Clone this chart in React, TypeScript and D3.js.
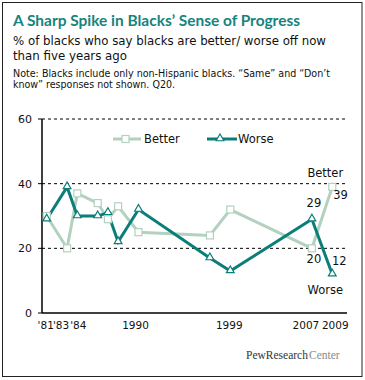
import React from "react";
import * as d3 from "d3";

const years = [1981, 1983, 1984, 1986, 1987, 1988, 1990, 1997, 1999, 2007, 2009];
const better = [30, 20, 37, 34, 29, 33, 25, 24, 32, 20, 39];
const worse = [29, 39, 30, 30, 31, 22, 32, 17, 13, 29, 12];
const tickYears = [1981, 1983, 1984, 1990, 1999, 2007, 2009];
const tickLabels = ["'81", "'83", "'84", "1990", "1999", "2007", "2009"];
const yTicks = [0, 20, 40, 60];

const W = 365;
const H = 380;
const BETTER_C = "#b3d1bf";
const WORSE_C = "#0b7e79";
const TITLE_C = "#16847e";
const FONT = "'DejaVu Sans', Verdana, sans-serif";

export default function App() {
  const x = d3.scaleLinear().domain([1981, 2009]).range([46.7, 332.3]);
  const y = d3.scaleLinear().domain([0, 60]).range([313, 119]);
  const axisX0 = 42;
  const axisX1 = 347;

  const line = d3
    .line<number>()
    .x((_, i) => x(years[i]))
    .y((d) => y(d));

  const tri = d3.symbol().type(d3.symbolTriangle).size(26)();
  const nudge: Record<number, number> = { 1981: -1, 1983: -6, 1984: 1, 1990: -3, 1999: -1, 2007: -6, 2009: 3 };

  const last = years.length - 1;
  const prev = years.length - 2;

  return (
    <svg
      width={W}
      height={H}
      style={{ position: "absolute", left: 0, top: 0, background: "#fff" }}
      fontFamily={FONT}
    >
      <rect x={2.5} y={2.5} width={359.5} height={374} fill="#fff" stroke="#222" strokeWidth={1} />

      <text x={13} y={26} fill={TITLE_C} fontFamily="Lato, sans-serif" fontWeight="bold" fontSize={15.5} textLength={287} lengthAdjust="spacingAndGlyphs">
        A Sharp Spike in Blacks’ Sense of Progress
      </text>
      <text x={13} y={45} fill="#111" fontSize={12} textLength={313} lengthAdjust="spacingAndGlyphs">
        % of blacks who say blacks are better/ worse off now
      </text>
      <text x={13} y={59.5} fill="#111" fontSize={12} textLength={114} lengthAdjust="spacingAndGlyphs">
        than five years ago
      </text>
      <text x={13} y={77} fill="#111" fontSize={10} textLength={317} lengthAdjust="spacingAndGlyphs">
        Note: Blacks include only non-Hispanic blacks. “Same” and “Don’t
      </text>
      <text x={13} y={88} fill="#111" fontSize={10} textLength={162} lengthAdjust="spacingAndGlyphs">
        know” responses not shown. Q20.
      </text>

      {/* gridlines */}
      {yTicks
        .filter((t) => t > 0)
        .map((t) => (
          <line key={"g" + t} x1={axisX0} x2={346} y1={y(t)} y2={y(t)} stroke="#000" strokeWidth={1} strokeDasharray="3,3" />
        ))}
      {/* y ticks & labels */}
      {yTicks.map((t) => (
        <g key={"y" + t}>
          <line x1={axisX0 - 4} x2={axisX0} y1={y(t)} y2={y(t)} stroke="#000" strokeWidth={1} />
          <text x={32} y={y(t) + 4} textAnchor="end" fontSize={11} fill="#111">
            {t}
          </text>
        </g>
      ))}
      <line x1={axisX0} x2={axisX0} y1={y(60)} y2={y(0)} stroke="#000" strokeWidth={1.5} />
      <line x1={axisX0} x2={axisX1} y1={y(0)} y2={y(0)} stroke="#000" strokeWidth={1.5} />

      {tickYears.map((yr, i) => (
        <text key={"x" + yr} x={x(yr) + (nudge[yr] || 0)} y={329} textAnchor="middle" fontSize={10.5} fill="#111">
          {tickLabels[i]}
        </text>
      ))}

      {/* lines */}
      <path d={line(better) || ""} fill="none" stroke={BETTER_C} strokeWidth={3} strokeLinejoin="miter" />
      <path d={line(worse) || ""} fill="none" stroke={WORSE_C} strokeWidth={3} strokeLinejoin="miter" />

      {better.map((v, i) => (
        <rect key={"b" + i} x={x(years[i]) - 3.5} y={y(v) - 3.5} width={7} height={7} fill="#fff" stroke={BETTER_C} strokeWidth={1.2} />
      ))}
      {worse.map((v, i) => (
        <path key={"w" + i} d={tri} transform={`translate(${x(years[i])},${y(v) - 0.5})`} fill="#fff" stroke={WORSE_C} strokeWidth={1.2} />
      ))}

      {/* legend */}
      <line x1={113} x2={141} y1={139} y2={139} stroke={BETTER_C} strokeWidth={3} />
      <rect x={122} y={135.5} width={7} height={7} fill="#fff" stroke={BETTER_C} strokeWidth={1.2} />
      <text x={144} y={143} fontSize={11.5} fill="#111">Better</text>
      <line x1={207} x2={237} y1={139} y2={139} stroke={WORSE_C} strokeWidth={3} />
      <path d={tri} transform="translate(220,138.5)" fill="#fff" stroke={WORSE_C} strokeWidth={1.2} />
      <text x={238} y={143} fontSize={11.5} fill="#111">Worse</text>

      {/* annotations */}
      <text x={x(years[last]) - 7} y={y(better[last]) - 10} textAnchor="middle" fontSize={11.5} fill="#111">Better</text>
      <text x={x(years[last]) + 1} y={y(better[last]) + 12} fontSize={11.5} fill="#111">{better[last]}</text>
      <text x={x(years[prev]) + 2} y={y(worse[prev]) - 12} textAnchor="middle" fontSize={11.5} fill="#111">{worse[prev]}</text>
      <text x={x(years[prev]) + 2} y={y(better[prev]) + 15} textAnchor="middle" fontSize={11.5} fill="#111">{better[prev]}</text>
      <text x={x(years[last]) + 7} y={y(worse[last]) - 9} textAnchor="middle" fontSize={11.5} fill="#111">{worse[last]}</text>
      <text x={x(years[last]) - 7} y={y(worse[last]) + 20} textAnchor="middle" fontSize={11.5} fill="#111">Worse</text>

      {/* logo */}
      <text x={246} y={359} fontFamily="'Liberation Serif', serif" fontSize={11.5} fill="#333">
        PewResearch
      </text>
      <text x={309} y={359} fontFamily="'Liberation Serif', serif" fontSize={11.5} fill="#8a8a8a">
        Center
      </text>
    </svg>
  );
}
